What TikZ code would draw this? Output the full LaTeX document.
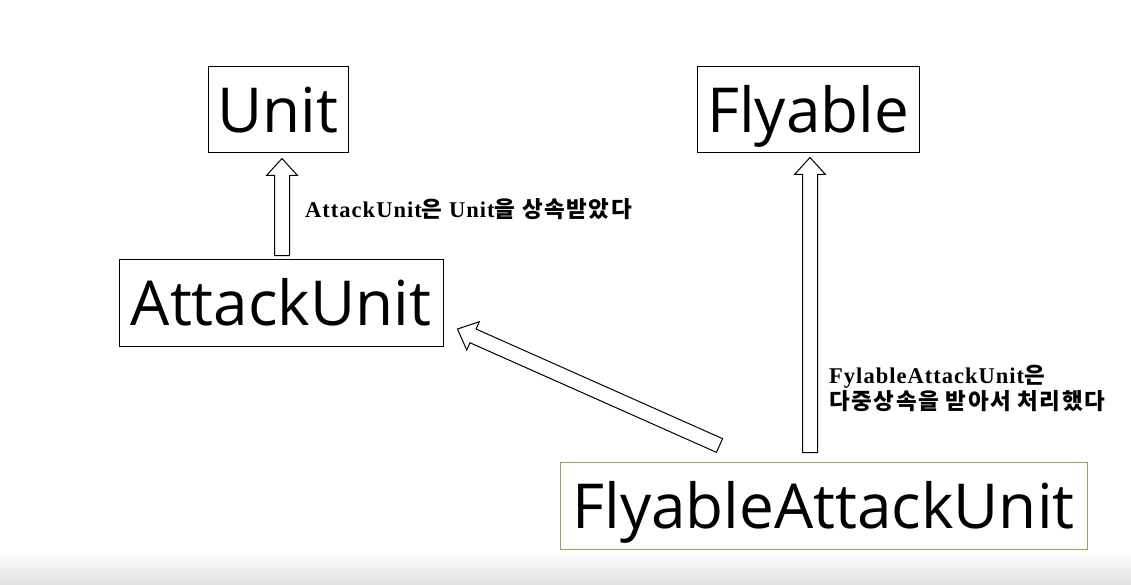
\documentclass[tikz,border=0pt]{standalone}
\usepackage{fontspec}
\usetikzlibrary{calc}
\setmainfont{Liberation Serif}[LetterSpace=4.5]
\newfontfamily\boxfont{Open Sans}
\newfontfamily\krfont{Noto Sans CJK KR}[LetterSpace=7]
\newcommand\kr[1]{{\krfont\bfseries #1}}
\definecolor{faugreen}{RGB}{140,165,100}
\tikzset{
  classbox/.style={draw=black, line width=1pt, inner sep=0pt, font=\boxfont\fontsize{62}{70}\selectfont,
    text height=46pt, text depth=0pt},
  blockline/.style={draw=black, line width=1pt, fill=white, line join=miter},
  lbl/.style={font=\bfseries\fontsize{22.5}{26}\selectfont, inner sep=0pt, align=left}
}
\newcommand\blockarrow[2]{% tail, tip
  \coordinate (ba-b) at ($(#2)!17pt!(#1)$);
  \draw[blockline] (#2) -- ($(ba-b)!15.5pt!90:(#2)$) -- ($(ba-b)!7.5pt!90:(#2)$)
    -- ($(#1)!7.5pt!90:(#2)$) -- ($(#1)!7.5pt!-90:(#2)$) -- ($(ba-b)!7.5pt!-90:(#2)$)
    -- ($(ba-b)!15.5pt!-90:(#2)$) -- cycle;}
\begin{document}
\begin{tikzpicture}[x=1pt,y=1pt]
\useasboundingbox (0,0) rectangle (1131,-585);
\fill[white] (0,0) rectangle (1131,-585);
\shade[top color=white, bottom color=gray!25] (0,-553) rectangle (1131,-585);

\node[classbox, minimum width=140pt, minimum height=86pt] (unit) at (278,-110) {Unit};
\node[classbox, minimum width=222pt, minimum height=86pt] (fly) at (808,-110) {Flyable};
\node[classbox, minimum width=324pt, minimum height=87pt] (au) at (281,-302.5) {AttackUnit};
\node[classbox, draw=faugreen, minimum width=527pt, minimum height=87pt] (fau) at (823.5,-505.5) {FlyableAttackUnit};

\coordinate (t1) at ($(au.north)+(1,3)$);
\coordinate (h1) at ($(unit.south)+(4,-5)$);
\coordinate (t2) at ($(fau.north -| fly.south)+(2,9)$);
\coordinate (h2) at ($(fly.south)+(2,-4)$);
\coordinate (t3) at ($(fau.north west)+(160,16)$);
\coordinate (h3) at ($(au.east)+(14,-26.5)$);

\blockarrow{t1}{h1}
\blockarrow{t2}{h2}
\blockarrow{t3}{h3}

\node[lbl, anchor=west] (l1) at (305,-209) {AttackUnit\kr{은} Unit\kr{을 상속받았다}};
\node[lbl, anchor=west] (l2) at (829,-388.5) {FylableAttackUnit\kr{은}\\\kr{다중상속을 받아서 처리했다}};
\end{tikzpicture}
\end{document}
